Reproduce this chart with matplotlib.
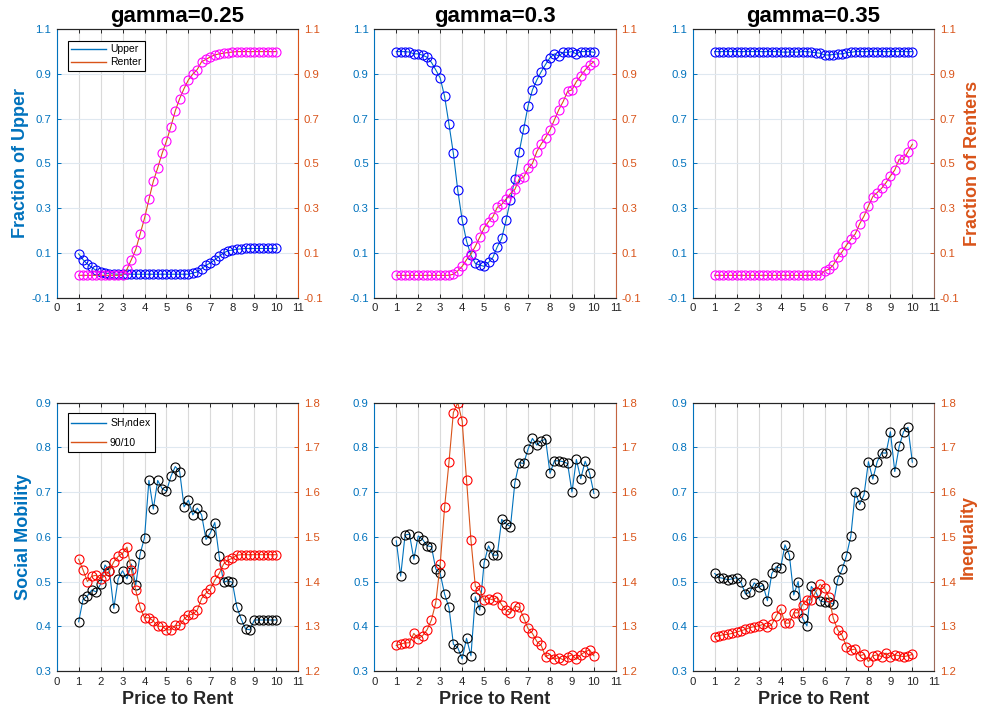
import numpy as np
import matplotlib
matplotlib.use("Agg")
import matplotlib.pyplot as plt

plt.rcParams['font.family'] = ['Liberation Sans', 'DejaVu Sans']

# price to rent grid, 1:0.2:10
priceToRent = np.linspace(1, 10, 46)
gammas = ["0.25", "0.3", "0.35"]

upper025 = [0.096, 0.07, 0.05, 0.035, 0.022, 0.015, 0.01, 0.008, 0.006, 0.005, 0.005] + [0.005] * 15 + \
    [0.01, 0.015, 0.03, 0.045, 0.055, 0.07, 0.085, 0.1, 0.11, 0.113, 0.117, 0.118] + [0.12] * 8
renter025 = [0.0] * 11 + [0.027, 0.07, 0.115, 0.185, 0.255, 0.34, 0.42, 0.48, 0.545, 0.6, 0.665, 0.735,
                          0.79, 0.835, 0.874, 0.9, 0.92, 0.955, 0.965, 0.977, 0.985, 0.99, 0.993, 0.996,
                          0.998] + [1.0] * 10
upper030 = [1.0, 1.0, 1.0, 0.998, 0.99, 0.99, 0.984, 0.975, 0.952, 0.918, 0.882, 0.8, 0.675, 0.545, 0.38,
            0.247, 0.153, 0.09, 0.053, 0.046, 0.04, 0.058, 0.08, 0.128, 0.165, 0.247, 0.337, 0.432, 0.553,
            0.654, 0.757, 0.829, 0.873, 0.91, 0.943, 0.973, 0.99, 0.98, 0.997, 0.997, 1.0, 0.99, 1.0, 1.0,
            1.0, 0.997]
renter030 = [0.0] * 13 + [0.005, 0.02, 0.04, 0.07, 0.095, 0.13, 0.17, 0.212, 0.24, 0.262, 0.304, 0.317,
                          0.34, 0.366, 0.384, 0.431, 0.438, 0.478, 0.5, 0.553, 0.587, 0.616, 0.65, 0.695,
                          0.74, 0.777, 0.822, 0.829, 0.866, 0.891, 0.918, 0.94, 0.955]
upper035 = [1.0] * 15 + [0.998] * 5 + [1.0, 1.0] + \
    [0.998, 0.995, 0.993, 0.985, 0.985, 0.987, 0.99, 0.99, 0.995, 0.997] + [1.0] * 14
renter035 = [0.0] * 25 + [0.02, 0.027, 0.046, 0.08, 0.105, 0.135, 0.162, 0.185, 0.23, 0.265, 0.31, 0.352,
                          0.37, 0.389, 0.414, 0.444, 0.471, 0.519, 0.519, 0.553, 0.586]

shIndex025 = [0.41, 0.46, 0.468, 0.481, 0.477, 0.494, 0.537, 0.524, 0.44, 0.506, 0.524, 0.506, 0.539, 0.492,
              0.562, 0.598, 0.726, 0.662, 0.726, 0.708, 0.702, 0.735, 0.757, 0.746, 0.667, 0.682, 0.649,
              0.664, 0.649, 0.594, 0.609, 0.632, 0.556, 0.498, 0.502, 0.498, 0.444, 0.416, 0.394,
              0.392] + [0.414] * 6
ineq025 = [1.45, 1.426, 1.4, 1.412, 1.414, 1.406, 1.413, 1.424, 1.444, 1.456, 1.463, 1.477, 1.426, 1.38,
           1.342, 1.319, 1.319, 1.312, 1.3, 1.3, 1.292, 1.292, 1.302, 1.302, 1.316, 1.325, 1.327, 1.336,
           1.362, 1.374, 1.383, 1.403, 1.418, 1.439, 1.448, 1.452, 1.459] + [1.46] * 9
shIndex030 = [0.591, 0.512, 0.604, 0.606, 0.55, 0.602, 0.594, 0.58, 0.578, 0.528, 0.518, 0.472, 0.442,
              0.36, 0.352, 0.327, 0.373, 0.334, 0.466, 0.436, 0.542, 0.58, 0.559, 0.559, 0.639, 0.629,
              0.623, 0.721, 0.766, 0.764, 0.796, 0.82, 0.805, 0.815, 0.818, 0.742, 0.77, 0.77, 0.768,
              0.764, 0.7, 0.773, 0.73, 0.769, 0.743, 0.697]
ineq030 = [1.257, 1.26, 1.263, 1.263, 1.284, 1.272, 1.279, 1.292, 1.314, 1.353, 1.439, 1.566, 1.667, 1.778,
           1.8, 1.759, 1.627, 1.493, 1.389, 1.381, 1.358, 1.362, 1.359, 1.365, 1.348, 1.336, 1.33, 1.345,
           1.342, 1.319, 1.295, 1.284, 1.266, 1.257, 1.232, 1.237, 1.226, 1.23, 1.225, 1.232, 1.236,
           1.226, 1.236, 1.243, 1.247, 1.234]
shIndex035 = [0.518, 0.509, 0.507, 0.504, 0.506, 0.509, 0.498, 0.472, 0.476, 0.497, 0.487, 0.492, 0.457,
              0.518, 0.533, 0.53, 0.582, 0.559, 0.47, 0.5, 0.418, 0.401, 0.489, 0.477, 0.457, 0.454, 0.455,
              0.449, 0.504, 0.527, 0.558, 0.602, 0.7, 0.672, 0.694, 0.768, 0.729, 0.768, 0.788, 0.787,
              0.835, 0.746, 0.802, 0.835, 0.845, 0.767]
ineq035 = [1.277, 1.279, 1.281, 1.282, 1.284, 1.287, 1.29, 1.293, 1.297, 1.299, 1.301, 1.304, 1.298, 1.304,
           1.323, 1.339, 1.307, 1.307, 1.33, 1.33, 1.348, 1.359, 1.359, 1.377, 1.394, 1.385, 1.365, 1.318,
           1.292, 1.28, 1.254, 1.247, 1.249, 1.234, 1.237, 1.221, 1.234, 1.236, 1.232, 1.24, 1.232, 1.236,
           1.234, 1.232, 1.234, 1.237]

topLeft = [upper025, upper030, upper035]
topRight = [renter025, renter030, renter035]
botLeft = [shIndex025, shIndex030, shIndex035]
botRight = [ineq025, ineq030, ineq035]

BLUE = '#0072BD'
ORANGE = '#D95319'
rightSpine = [ORANGE, '#C46440', '#9C6A5A']

lefts = [0.0576, 0.3804, 0.704]
width = 0.2455
fig = plt.figure(figsize=(9.84, 7.17), dpi=100)


def styleAxes(ax, ax2, ylim, yticks, ylim2, yticks2, col):
    ax.set_xlim(0, 11)
    ax.set_xticks(range(0, 12))
    ax.set_ylim(*ylim)
    ax.set_yticks(yticks)
    ax.set_yticklabels([f"{t:g}" for t in yticks])
    ax2.set_ylim(*ylim2)
    ax2.set_yticks(yticks2)
    ax2.set_yticklabels([f"{t:g}" for t in yticks2])
    for a in (ax, ax2):
        a.tick_params(direction='in', length=3, width=0.7, labelsize=8.2, pad=4)
    ax.tick_params(axis='x', colors='#262626', top=True)
    ax.tick_params(axis='y', colors=BLUE)
    ax2.tick_params(axis='y', colors=ORANGE)
    ax.set_axisbelow(True)
    ax.xaxis.grid(True, color='#dadada', lw=0.8)
    ax.yaxis.grid(True, color='#dfe8f0', lw=0.8)
    ax.spines['left'].set_color(BLUE)
    ax2.spines['left'].set_visible(False)
    ax2.spines['right'].set_color(rightSpine[col])
    ax.spines['right'].set_visible(False)
    for a in (ax, ax2):
        a.spines['top'].set_color('#262626')
        a.spines['bottom'].set_color('#262626')


def addLegend(ax2, lines, names, spacing, anchorY):
    leg = ax2.legend(lines, names, loc='upper left', fontsize=7.5, fancybox=False,
                     edgecolor='black', framealpha=1, borderpad=0.35, handlelength=3.3,
                     handletextpad=0.4, labelspacing=spacing, borderaxespad=0,
                     bbox_to_anchor=(0.046, anchorY))
    leg.get_frame().set_linewidth(0.8)
    for ln in leg.get_lines():
        ln.set_linewidth(1.0)


for col in range(3):
    # top row: fractions
    ax = fig.add_axes([lefts[col], 0.5848, width, 0.3744])
    ax2 = ax.twinx()
    l1, = ax.plot(priceToRent, topLeft[col], color=BLUE, lw=0.8)
    ax.plot(priceToRent, topLeft[col], 'o', mfc='none', mec='blue', ms=6.5, mew=0.8)
    l2, = ax2.plot(priceToRent, topRight[col], color=ORANGE, lw=0.8)
    ax2.plot(priceToRent, topRight[col], 'o', mfc='none', mec='magenta', ms=6.5, mew=0.8)
    yt = [-0.1, 0.1, 0.3, 0.5, 0.7, 0.9, 1.1]
    styleAxes(ax, ax2, (-0.1, 1.1), yt, (-0.1, 1.1), yt, col)
    ax.set_title("gamma=" + gammas[col], fontsize=16, fontweight='bold', pad=5)
    if col == 0:
        ax.set_ylabel("Fraction of Upper", fontsize=13, fontweight='bold', color=BLUE, labelpad=2)
        addLegend(ax2, [l1, l2], ["Upper", "Renter"], 0.3, 0.958)
    if col == 2:
        ax2.set_ylabel("Fraction of Renters", fontsize=13, fontweight='bold', color=ORANGE, labelpad=3)

    # bottom row: mobility and inequality
    ax = fig.add_axes([lefts[col], 0.0642, width, 0.3742])
    ax2 = ax.twinx()
    l1, = ax.plot(priceToRent, botLeft[col], color=BLUE, lw=0.8)
    ax.plot(priceToRent, botLeft[col], 'o', mfc='none', mec='black', ms=6.5, mew=0.8)
    l2, = ax2.plot(priceToRent, botRight[col], color=ORANGE, lw=0.8)
    ax2.plot(priceToRent, botRight[col], 'o', mfc='none', mec='red', ms=6.5, mew=0.8)
    styleAxes(ax, ax2, (0.3, 0.9), [0.3, 0.4, 0.5, 0.6, 0.7, 0.8, 0.9],
              (1.2, 1.8), [1.2, 1.3, 1.4, 1.5, 1.6, 1.7, 1.8], col)
    ax.set_xlabel("Price to Rent", fontsize=13, fontweight='bold', color='#262626', labelpad=3)
    if col == 0:
        ax.set_ylabel("Social Mobility", fontsize=13, fontweight='bold', color=BLUE, labelpad=2)
        addLegend(ax2, [l1, l2], ["SH$_I$ndex", "90/10"], 0.75, 0.962)
    if col == 2:
        ax2.set_ylabel("Inequality", fontsize=13, fontweight='bold', color=ORANGE, labelpad=3)

fig.savefig("out.png", dpi=100)
